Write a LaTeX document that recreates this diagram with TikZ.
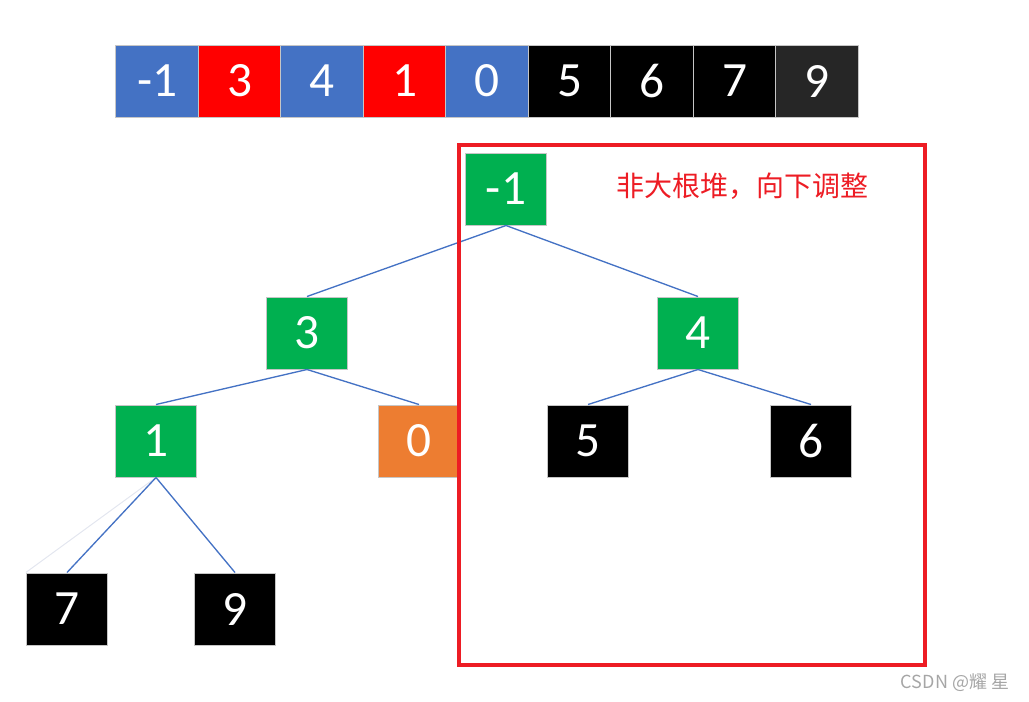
\documentclass[tikz,border=0pt]{standalone}
\usepackage{fontspec}
\setmainfont{Carlito}
\newfontfamily\cjk{Noto Sans CJK SC}
\definecolor{cblue}{HTML}{4472C4}
\definecolor{cred}{HTML}{FF0000}
\definecolor{cdark}{HTML}{262626}
\definecolor{cgreen}{HTML}{00B050}
\definecolor{corange}{HTML}{ED7D31}
\definecolor{frame}{HTML}{ED1C24}
\definecolor{faint}{HTML}{E3E6EF}
\tikzset{
  cell/.style={draw=gray!45, line width=0.75pt, minimum width=61.9pt, minimum height=54pt, inner sep=0pt, text=white, font=\fontsize{37}{39}\selectfont},
  tnode/.style={cell, minimum width=61pt},
  edge/.style={draw=cblue, line width=1pt},
}
\begin{document}
\begin{tikzpicture}[x=0.75pt,y=-0.75pt]
\useasboundingbox (0,0) rectangle (1029,701);
% array
\node[cell, fill=cblue] (a0) at (157.25,81) {-1};
\node[cell, fill=cred] (a1) at (239.75,81) {3};
\node[cell, fill=cblue] (a2) at (322.25,81) {4};
\node[cell, fill=cred] (a3) at (404.75,81) {1};
\node[cell, fill=cblue] (a4) at (487.25,81) {0};
\node[cell, fill=black] (a5) at (569.75,81) {5};
\node[cell, fill=black] (a6) at (652.25,81) {6};
\node[cell, fill=black] (a7) at (734.75,81) {7};
\node[cell, fill=cdark] (a8) at (817.25,81) {9};
% tree
\node[tnode, fill=cgreen] (t1) at (506,189) {-1};
\node[tnode, fill=cgreen] (t3) at (307,333) {3};
\node[tnode, fill=cgreen] (t4) at (698,333) {4};
\node[tnode, fill=cgreen] (tone) at (156,441) {1};
\node[tnode, fill=corange] (t0) at (419,441) {0};
\node[tnode, fill=black] (t5) at (588,441) {5};
\node[tnode, fill=black] (t6) at (811,441) {6};
\node[tnode, fill=black] (t7) at (67,609) {7};
\node[tnode, fill=black] (t9) at (235,609) {9};
\draw[edge] (t1.south) -- (t3.north);
\draw[edge] (t1.south) -- (t4.north);
\draw[edge] (t3.south) -- (tone.north);
\draw[edge] (t3.south) -- (t0.north);
\draw[edge] (t4.south) -- (t5.north);
\draw[edge] (t4.south) -- (t6.north);
\draw[draw=faint, line width=0.75pt] (tone.south) -- (t7.north west);
\draw[edge] (tone.south) -- (t7.north);
\draw[edge] (tone.south) -- (t9.north);
% frame
\node[draw=frame, line width=3pt, minimum width=349.5pt, minimum height=390pt, inner sep=0pt] (box) at (692,405) {};
\node[text=frame, font=\cjk\fontsize{21}{23}\selectfont] (note) at (742,186) {非大根堆，向下调整};
\node[text=gray!70, font=\cjk\fontsize{13.5}{15}\selectfont] (wm) at (955,683) {CSDN @耀 星};
\end{tikzpicture}
\end{document}
